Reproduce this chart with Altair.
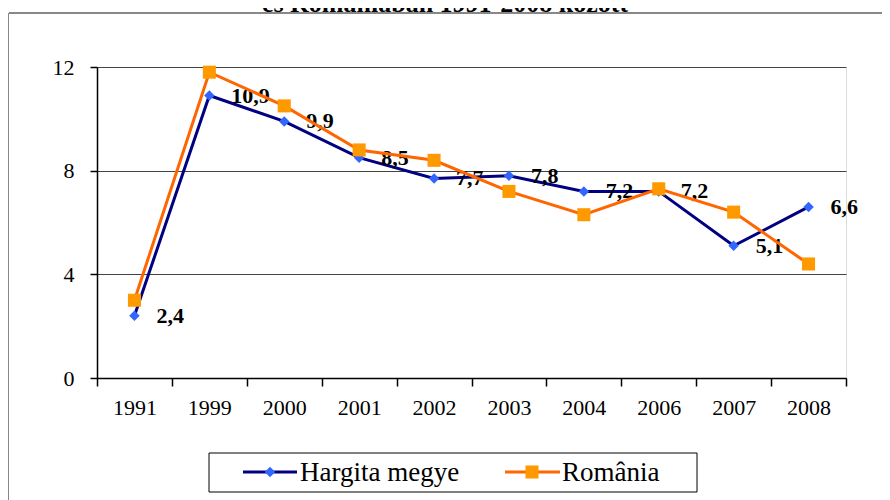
import altair as alt
import pandas as pd

years = ["1991", "1999", "2000", "2001", "2002", "2003", "2004", "2006", "2007", "2008"]
hargita = [2.4, 10.9, 9.9, 8.5, 7.7, 7.8, 7.2, 7.2, 5.1, 6.6]
romania = [3.0, 11.8, 10.5, 8.8, 8.4, 7.2, 6.3, 7.3, 6.4, 4.4]
series_names = ["Hargita megye", "România"]
title_text = "és Romániában 1991-2008 között"
y_ticks = [0, 4, 8, 12]

FONT = "Liberation Serif, Times New Roman, serif"
NAVY = "#000080"
BLUE = "#3366FF"
ORANGE_LINE = "#FF6600"
ORANGE_FILL = "#FF9900"

df_h = pd.DataFrame({"year": years, "value": hargita,
                     "label": [f"{v:.1f}".replace(".", ",") for v in hargita]})
df_r = pd.DataFrame({"year": years, "value": romania})

W, H = 749, 311

xenc = alt.X("year:N", sort=years,
             scale=alt.Scale(type="band", paddingInner=0, paddingOuter=0),
             axis=alt.Axis(title=None, labelAngle=0, tickBand="extent",
                           domainColor="black", domainWidth=1.5,
                           tickColor="black", tickWidth=1.5, tickSize=8,
                           labelFont=FONT, labelFontSize=22, labelColor="black",
                           labelPadding=11, grid=False))
yscale = alt.Scale(domain=[0, 12], nice=False)
yenc = alt.Y("value:Q", scale=yscale,
             axis=alt.Axis(title=None, values=y_ticks, grid=True,
                           gridColor="#444444", gridWidth=1,
                           domainColor="black", domainWidth=1.5,
                           tickColor="black", tickWidth=1.5, tickSize=7,
                           labelFont=FONT, labelFontSize=22, labelColor="black",
                           labelPadding=16))

h_line = alt.Chart(df_h).mark_line(color=NAVY, strokeWidth=3).encode(x=xenc, y=yenc)
h_pts = alt.Chart(df_h).mark_point(shape="diamond", filled=True, fill=BLUE,
                                   opacity=1, size=110).encode(x=xenc, y=yenc)
h_lab = alt.Chart(df_h).mark_text(align="left", baseline="middle", dx=22,
                                  font=FONT, fontSize=22, fontWeight="bold",
                                  color="black").encode(x=xenc, y=yenc, text="label:N")
r_line = alt.Chart(df_r).mark_line(color=ORANGE_LINE, strokeWidth=3).encode(x=xenc, y=yenc)
r_pts = alt.Chart(df_r).mark_point(shape="square", filled=True, fill=ORANGE_FILL,
                                   opacity=1, size=170).encode(x=xenc, y=yenc)

# outer frame (decoration)
frame_top = alt.Chart(pd.DataFrame({"a": [0]})).mark_rule(
    color="#888888", strokeWidth=2).encode(
    x=alt.value(-88), x2=alt.value(900), y=alt.value(-54))
frame_left = alt.Chart(pd.DataFrame({"a": [0]})).mark_rule(
    color="#888888", strokeWidth=2).encode(
    x=alt.value(-89), y=alt.value(-54), y2=alt.value(600))

title = alt.Chart(pd.DataFrame({"t": [title_text]})).mark_text(
    font=FONT, fontSize=26, fontWeight="bold", baseline="alphabetic",
    align="center", color="black").encode(
    x=alt.value(348), y=alt.value(-55), text="t:N")

# legend
leg_box = alt.Chart(pd.DataFrame({"a": [0]})).mark_rect(
    fill="white", stroke="black", strokeWidth=1).encode(
    x=alt.value(112), x2=alt.value(600), y=alt.value(386), y2=alt.value(425))
ly = 405
leg_h_line = alt.Chart(pd.DataFrame({"a": [0]})).mark_rule(color=NAVY, strokeWidth=3).encode(
    x=alt.value(146), x2=alt.value(200), y=alt.value(ly))
leg_h_pt = alt.Chart(pd.DataFrame({"a": [0]})).mark_point(
    shape="diamond", filled=True, fill=BLUE, opacity=1, size=110).encode(
    x=alt.value(173), y=alt.value(ly))
leg_h_txt = alt.Chart(pd.DataFrame({"t": [series_names[0]]})).mark_text(
    align="left", baseline="middle", font=FONT, fontSize=27, color="black").encode(
    x=alt.value(203), y=alt.value(ly + 1), text="t:N")
leg_r_line = alt.Chart(pd.DataFrame({"a": [0]})).mark_rule(color=ORANGE_LINE, strokeWidth=3).encode(
    x=alt.value(408), x2=alt.value(463), y=alt.value(ly))
leg_r_pt = alt.Chart(pd.DataFrame({"a": [0]})).mark_point(
    shape="square", filled=True, fill=ORANGE_FILL, opacity=1, size=170).encode(
    x=alt.value(435), y=alt.value(ly))
leg_r_txt = alt.Chart(pd.DataFrame({"t": [series_names[1]]})).mark_text(
    align="left", baseline="middle", font=FONT, fontSize=27, color="black").encode(
    x=alt.value(465), y=alt.value(ly + 1), text="t:N")

chart = alt.layer(
    frame_top, frame_left, title,
    h_line, h_pts, h_lab, r_line, r_pts,
    leg_box, leg_h_line, leg_h_pt, leg_h_txt, leg_r_line, leg_r_pt, leg_r_txt,
).properties(
    width=W, height=H,
    autosize=alt.AutoSizeParams(type="none"),
    padding={"left": 89, "top": 59, "right": 36, "bottom": 122},
).configure_view(
    stroke="#888888", strokeWidth=2
).configure(background="white")

chart.save("out.html", embed_options={"renderer": "svg", "actions": False})
